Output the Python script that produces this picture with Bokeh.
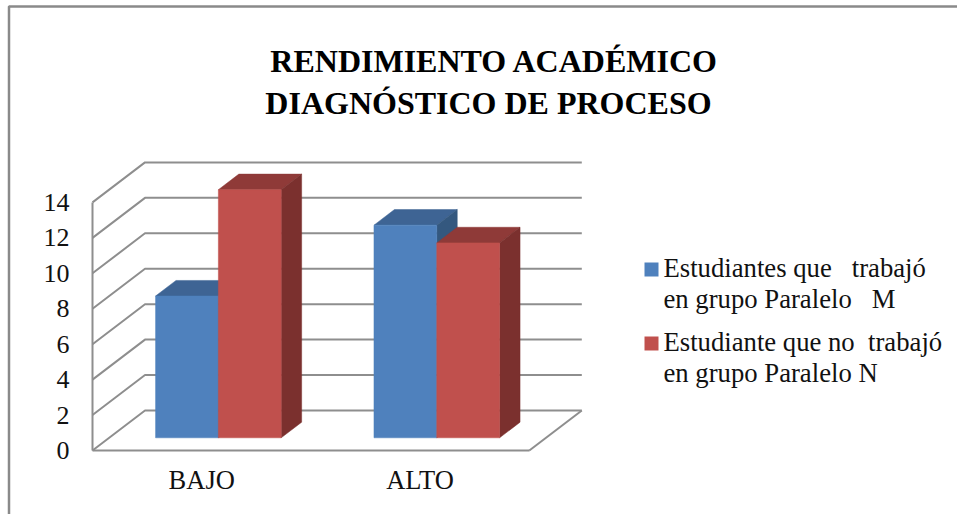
from bokeh.plotting import figure
from bokeh.embed import file_html
from bokeh.resources import INLINE
from bokeh.models import Range1d, LinearAxis, FixedTicker
from bokeh.core.properties import value

categories = ["BAJO", "ALTO"]
series_m = [8, 12]
series_n = [14, 11]
y_ticks = [0, 2, 4, 6, 8, 10, 12, 14]
title_lines = ["RENDIMIENTO ACADÉMICO", "DIAGNÓSTICO DE PROCESO"]
legend_m = ["Estudiantes que\u00a0\u00a0 trabajó", "en grupo Paralelo\u00a0\u00a0 M"]
legend_n = ["Estudiante que no\u00a0 trabajó", "en grupo Paralelo N"]

W, H = 957, 514
X0, Y0 = 92.0, 450.0          # pixel of category-axis origin
UX, UY = 218.4, 17.72         # pixels per category / per value unit
DX, DY = 52.5 / UX, 40.0 / UY # oblique shift of the chart's full depth, in data units
BAR_W = 62.8 / UX
Z0, Z1 = 0.3175, 0.7075       # bar depth span
FONT = "Liberation Serif"
GRAY = "#8e8e8e"
TXT = 11                      # text baseline correction, pixels

def px(x):
    return (x - X0) / UX

def py(y):
    return (Y0 - y) / UY

def proj(x, v, z):
    return x + z * DX, v + z * DY

p = figure(width=W, height=H, output_backend="svg", toolbar_location=None,
           x_range=Range1d(px(0), px(W)), y_range=Range1d(py(H), py(0)),
           x_axis_type=None, y_axis_type=None, min_border=0,
           margin=(0, 0, 0, 0), outline_line_color=None, background_fill_color="white")
p.grid.visible = False

# outer chart frame
p.line([px(960), px(8.5), px(8.5)], [py(6), py(6), py(520)], line_color="#8a8a8a", line_width=2.5)

# walls and floor
n = len(categories)
for v in y_ticks:
    xa, ya = proj(0, v, 0)
    xb, yb = proj(0, v, 1)
    xc, yc = proj(n, v, 1)
    p.line([xa, xb, xc], [ya, yb, yc], line_color=GRAY, line_width=2)
xa, ya = proj(n, 0, 0)
xb, yb = proj(n, 0, 1)
p.line([xa, xb], [ya, yb], line_color=GRAY, line_width=2)

# bars
def bar(cat_i, side, val, front, top, right):
    cx = cat_i + 0.5
    l = cx - BAR_W if side == 0 else cx
    r = l + BAR_W
    pts = lambda *q: zip(*[proj(*t) for t in q])
    xs, ys = pts((l, val, Z0), (r, val, Z0), (r, val, Z1), (l, val, Z1))
    p.patch(list(xs), list(ys), fill_color=top, line_color=top, line_width=0.5)
    xs, ys = pts((r, 0, Z0), (r, val, Z0), (r, val, Z1), (r, 0, Z1))
    p.patch(list(xs), list(ys), fill_color=right, line_color=right, line_width=0.5)
    x0, y0 = proj(l, 0, Z0)
    x1, y1 = proj(r, val, Z0)
    p.quad(left=[x0], right=[x1], bottom=[y0], top=[y1], fill_color=front, line_color=front, line_width=0.5)

for i, v in enumerate(series_m):
    bar(i, 0, v, "#4f81bd", "#3e6494", "#34587f")
for i, v in enumerate(series_n):
    bar(i, 1, v, "#c0504d", "#8f3a38", "#7b302e")

# axes
yax = LinearAxis(ticker=FixedTicker(ticks=y_ticks), fixed_location=0, bounds=(0, 14),
                 axis_line_color=GRAY, axis_line_width=2,
                 major_tick_line_color=None, minor_tick_line_color=None,
                 major_label_text_font=FONT, major_label_text_font_size="26px",
                 major_label_text_color="#111111", major_label_standoff=17)
p.add_layout(yax, "left")
xax = LinearAxis(ticker=FixedTicker(ticks=[i + 0.5 for i in range(n)]), fixed_location=0, bounds=(0, n),
                 major_label_overrides={i + 0.5: c for i, c in enumerate(categories)},
                 axis_line_color=GRAY, axis_line_width=2,
                 major_tick_line_color=None, minor_tick_line_color=None,
                 major_label_text_font=FONT, major_label_text_font_size="26.5px",
                 major_label_text_color="#111111", major_label_standoff=8)
p.add_layout(xax, "below")

# title
p.text([px(494), px(488)], [py(71 - TXT), py(113.5 - TXT)], text=title_lines, text_font=value(FONT),
       text_font_size="32px", text_font_style="bold", text_align="center",
       text_baseline="alphabetic", text_color="black")

# legend
p.quad(left=[px(644)], right=[px(658)], top=[py(262)], bottom=[py(276)], fill_color="#4f81bd", line_color=None)
p.quad(left=[px(644)], right=[px(658)], top=[py(336)], bottom=[py(350)], fill_color="#c0504d", line_color=None)
p.text([px(663)] * 4, [py(278 - TXT), py(309 - TXT), py(352 - TXT), py(383 - TXT)], text=legend_m + legend_n,
       text_font=value(FONT), text_font_size="26.7px", text_align="left",
       text_baseline="alphabetic", text_color="#111111")

open("out.html", "w").write(file_html(p, INLINE))
